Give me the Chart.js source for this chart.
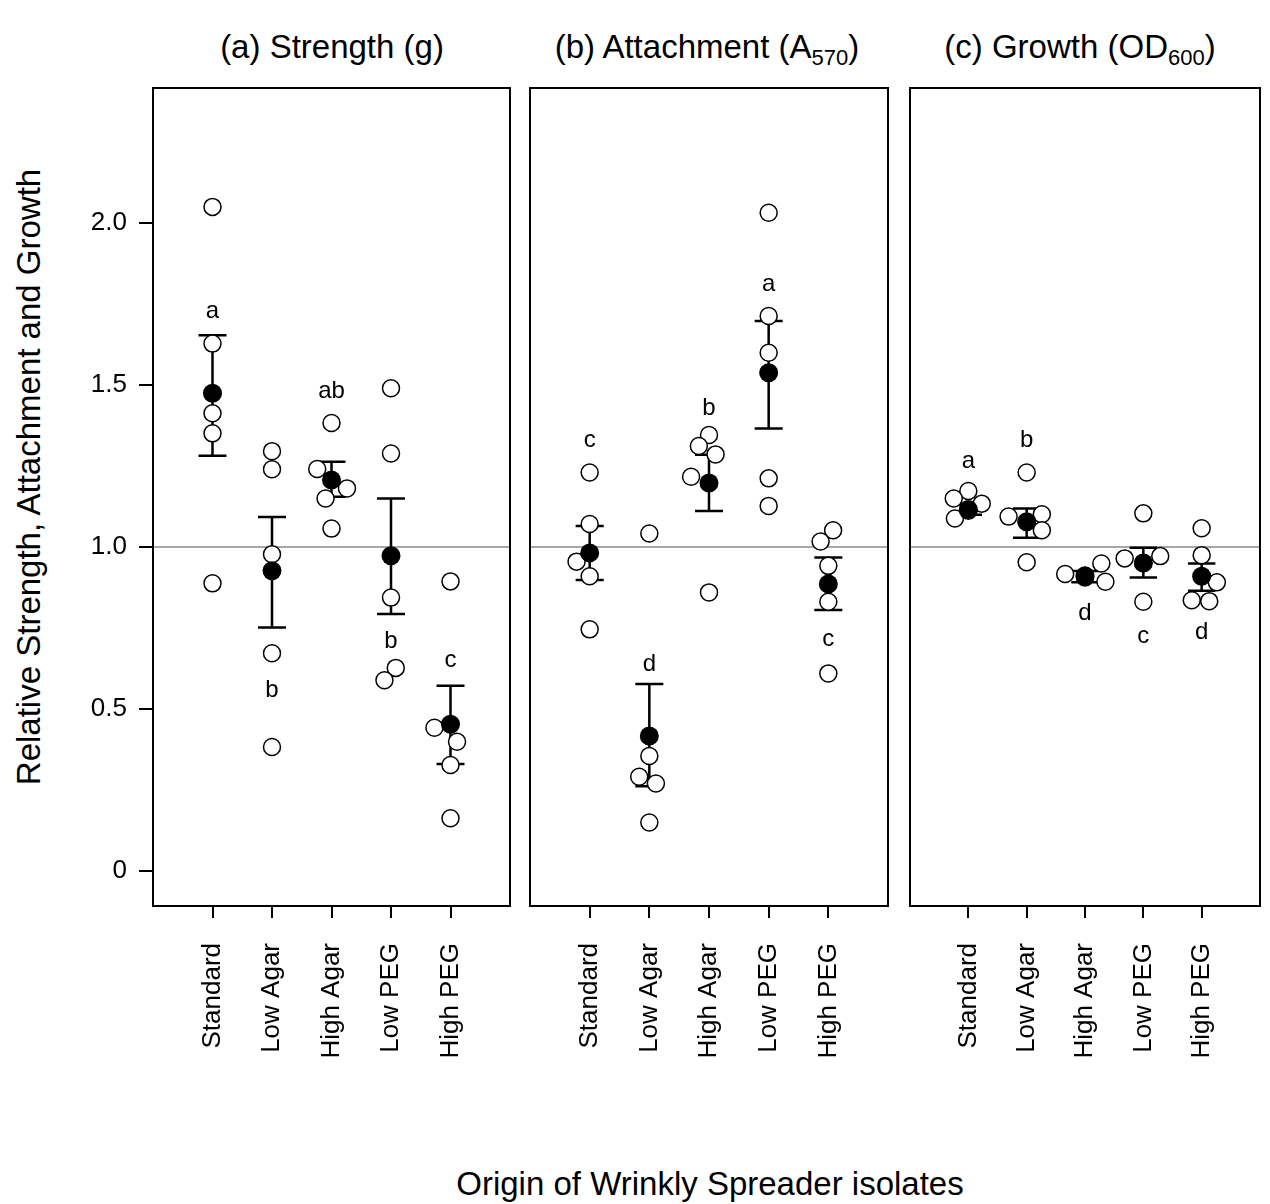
<!DOCTYPE html>
<html>
<head>
<meta charset="utf-8">
<script src="https://cdn.jsdelivr.net/npm/chart.js@4.4.0/dist/chart.umd.min.js"></script>
<style>
  body { margin: 0; background: #fff; }
  #wrap { position: relative; width: 1270px; height: 1204px; background: #fff;
          font-family: "Liberation Sans", Arial, sans-serif; color: #000; }
  #wrap canvas { position: absolute; top: 0; }
  .label { position: absolute; white-space: nowrap; font-size: 33px; line-height: 1;
           transform: translate(-50%, -50%); }
  .label sub { font-size: 22px; vertical-align: -7px; line-height: 0; }
  #ytitle { transform: translate(-50%, -50%) rotate(-90deg); }
</style>
</head>
<body>
<div id="wrap">
  <div class="label" style="left:332px; top:46px">(a) Strength (g)</div>
  <div class="label" style="left:707px; top:46px">(b) Attachment (A<sub>570</sub>)</div>
  <div class="label" style="left:1080px; top:46px">(c) Growth (OD<sub>600</sub>)</div>
  <div class="label" id="ytitle" style="left:28px; top:477px">Relative Strength, Attachment and Growth</div>
  <div class="label" style="left:710px; top:1183px">Origin of Wrinkly Spreader isolates</div>
  <canvas id="chartA" width="520" height="1100" style="left:0"></canvas>
  <canvas id="chartB" width="380" height="1100" style="left:520px"></canvas>
  <canvas id="chartC" width="370" height="1100" style="left:900px"></canvas>
</div>
<script>
// categories and axis ticks
const categories = ['Standard', 'Low Agar', 'High Agar', 'Low PEG', 'High PEG'];
const yTickValues = [0, 0.5, 1, 1.5, 2];
const yTickLabels = ['0', '0.5', '1.0', '1.5', '2.0'];
const yMin = -0.108;
const yMax = 2.417;
const refValue = 1;

// (a) strength: isolate values per group, horizontal jitter, mean and error bar
const strengthValues = [
    [2.05, 1.628, 1.413, 1.351, 0.888],
    [1.296, 1.240, 0.978, 0.672, 0.383],
    [1.383, 1.241, 1.181, 1.150, 1.057],
    [1.490, 1.289, 0.844, 0.627, 0.589],
    [0.894, 0.442, 0.399, 0.327, 0.163]
];
const strengthJitter = [
    [0, 0, 0, 0, 0],
    [0, 0, 0, 0, 0],
    [0, -0.24, 0.26, -0.10, 0],
    [0, 0, 0, 0.08, -0.11],
    [0, -0.27, 0.11, 0, 0]
];
const strengthMean = [1.475, 0.927, 1.207, 0.973, 0.453];
const strengthLow = [1.282, 0.752, 1.155, 0.793, 0.330];
const strengthHigh = [1.654, 1.093, 1.263, 1.150, 0.572];
const strengthLetters = ['a', 'b', 'ab', 'b', 'c'];
const strengthLetterY = [1.726, 0.559, 1.479, 0.708, 0.651];

// (b) attachment
const attachValues = [
    [1.230, 1.071, 0.955, 0.910, 0.746],
    [1.042, 0.355, 0.291, 0.270, 0.150],
    [1.346, 1.312, 1.286, 1.217, 0.860],
    [2.032, 1.713, 1.600, 1.212, 1.127],
    [1.052, 1.017, 0.942, 0.831, 0.610]
];
const attachJitter = [
    [0, 0, -0.22, 0, 0],
    [0, 0, -0.17, 0.11, 0],
    [0, -0.17, 0.11, -0.30, 0],
    [0, 0, 0, 0, 0],
    [0.08, -0.13, 0, 0, 0]
];
const attachMean = [0.982, 0.417, 1.198, 1.538, 0.886];
const attachLow = [0.898, 0.262, 1.111, 1.366, 0.806];
const attachHigh = [1.065, 0.577, 1.285, 1.698, 0.968];
const attachLetters = ['c', 'd', 'b', 'a', 'c'];
const attachLetterY = [1.328, 0.639, 1.428, 1.812, 0.716];

// (c) growth
const growthValues = [
    [1.173, 1.150, 1.134, 1.088, 1.112],
    [1.230, 1.101, 1.094, 1.052, 0.953],
    [0.949, 0.917, 0.893, 0.912, 0.906],
    [1.104, 0.972, 0.965, 0.951, 0.831],
    [1.058, 0.975, 0.891, 0.836, 0.833]
];
const growthJitter = [
    [0, -0.25, 0.23, -0.23, 0],
    [0, 0.26, -0.31, 0.26, 0],
    [0.28, -0.34, 0.35, 0, 0],
    [0, 0.29, -0.32, 0, 0],
    [0, 0, 0.26, -0.17, 0.13]
];
const growthMean = [1.116, 1.078, 0.910, 0.951, 0.910];
const growthLow = [1.100, 1.029, 0.891, 0.906, 0.865];
const growthHigh = [1.132, 1.119, 0.926, 0.998, 0.949];
const growthLetters = ['a', 'b', 'd', 'c', 'd'];
const growthLetterY = [1.263, 1.330, 0.795, 0.725, 0.737];

const FONT = '"Liberation Sans", Arial, sans-serif';
const CAP = 0.235; // half width of error bar caps, in category units

Chart.defaults.font.family = FONT;
Chart.defaults.color = '#000';

function openPoints(values, jitter) {
    const pts = [];
    values.forEach((grp, g) => {
        grp.forEach((v, i) => pts.push({ x: g + 1 + jitter[g][i], y: v }));
    });
    return pts;
}

function meanPoints(means) {
    return means.map((m, g) => ({ x: g + 1, y: m }));
}

// stem + two caps per group, separated by gaps
function errorSegments(low, high) {
    const pts = [];
    low.forEach((lo, g) => {
        const c = g + 1;
        const hi = high[g];
        pts.push({ x: c, y: lo }, { x: c, y: hi }, { x: c, y: null });
        pts.push({ x: c - CAP, y: hi }, { x: c + CAP, y: hi }, { x: c, y: null });
        pts.push({ x: c - CAP, y: lo }, { x: c + CAP, y: lo }, { x: c, y: null });
    });
    return pts;
}

// box around the panel and the significance letters
function panelDecor(letters, letterY) {
    return {
        id: 'panelDecor',
        afterDatasetsDraw(chart) {
            const { ctx, chartArea: a, scales: { x, y } } = chart;
            ctx.save();
            ctx.strokeStyle = '#000';
            ctx.lineWidth = 2;
            ctx.strokeRect(a.left, a.top, a.right - a.left, a.bottom - a.top);
            ctx.fillStyle = '#000';
            ctx.font = '24px ' + FONT;
            ctx.textAlign = 'center';
            ctx.textBaseline = 'middle';
            letters.forEach((t, g) => {
                ctx.fillText(t, x.getPixelForValue(g + 1), y.getPixelForValue(letterY[g]));
            });
            ctx.restore();
        }
    };
}

function makePanel(canvasId, d, showY, padding) {
    return new Chart(document.getElementById(canvasId), {
        type: 'scatter',
        data: {
            datasets: [
                {
                    data: meanPoints(d.mean),
                    backgroundColor: '#000',
                    borderColor: '#000',
                    borderWidth: 0,
                    pointRadius: 9.5,
                    order: 0
                },
                {
                    data: openPoints(d.values, d.jitter),
                    backgroundColor: '#fff',
                    borderColor: '#000',
                    borderWidth: 1.5,
                    pointRadius: 8.5,
                    order: 1
                },
                {
                    type: 'line',
                    data: errorSegments(d.low, d.high),
                    borderColor: '#000',
                    borderWidth: 2.5,
                    pointRadius: 0,
                    spanGaps: false,
                    fill: false,
                    tension: 0,
                    order: 2
                },
                {
                    type: 'line',
                    data: [{ x: 0, y: refValue }, { x: 6, y: refValue }],
                    borderColor: '#8a8a8a',
                    borderWidth: 1.5,
                    pointRadius: 0,
                    fill: false,
                    order: 3
                }
            ]
        },
        options: {
            responsive: false,
            animation: false,
            events: [],
            layout: { padding: padding },
            plugins: {
                legend: { display: false },
                tooltip: { enabled: false }
            },
            scales: {
                x: {
                    type: 'linear',
                    min: 0,
                    max: 6,
                    afterBuildTicks: s => { s.ticks = categories.map((c, i) => ({ value: i + 1 })); },
                    afterFit: s => { s.height = 194; s.paddingLeft = 0; s.paddingRight = 0; },
                    ticks: {
                        callback: v => categories[v - 1],
                        minRotation: 90,
                        maxRotation: 90,
                        autoSkip: false,
                        padding: 25,
                        font: { size: 26 },
                        color: '#000'
                    },
                    grid: { drawOnChartArea: false, drawTicks: true, tickLength: 12, color: '#000', lineWidth: 2 },
                    border: { display: false }
                },
                y: {
                    display: showY,
                    min: yMin,
                    max: yMax,
                    afterBuildTicks: s => { s.ticks = yTickValues.map(v => ({ value: v })); },
                    afterFit: s => {
                        if (showY) s.width = 153;
                        s.paddingTop = 0;
                        s.paddingBottom = 0;
                    },
                    ticks: {
                        callback: v => yTickLabels[yTickValues.indexOf(v)],
                        padding: 12,
                        font: { size: 26 },
                        color: '#000'
                    },
                    grid: { drawOnChartArea: false, tickLength: 14, color: '#000', lineWidth: 2 },
                    border: { display: false }
                }
            }
        },
        plugins: [panelDecor(d.letters, d.letterY)]
    });
}

makePanel('chartA', {
    values: strengthValues, jitter: strengthJitter, mean: strengthMean,
    low: strengthLow, high: strengthHigh, letters: strengthLetters, letterY: strengthLetterY
}, true, { left: 0, top: 88, right: 8, bottom: 0 });

makePanel('chartB', {
    values: attachValues, jitter: attachJitter, mean: attachMean,
    low: attachLow, high: attachHigh, letters: attachLetters, letterY: attachLetterY
}, false, { left: 10, top: 88, right: 12, bottom: 0 });

makePanel('chartC', {
    values: growthValues, jitter: growthJitter, mean: growthMean,
    low: growthLow, high: growthHigh, letters: growthLetters, letterY: growthLetterY
}, false, { left: 10, top: 88, right: 3, bottom: 0 });
</script>
</body>
</html>
